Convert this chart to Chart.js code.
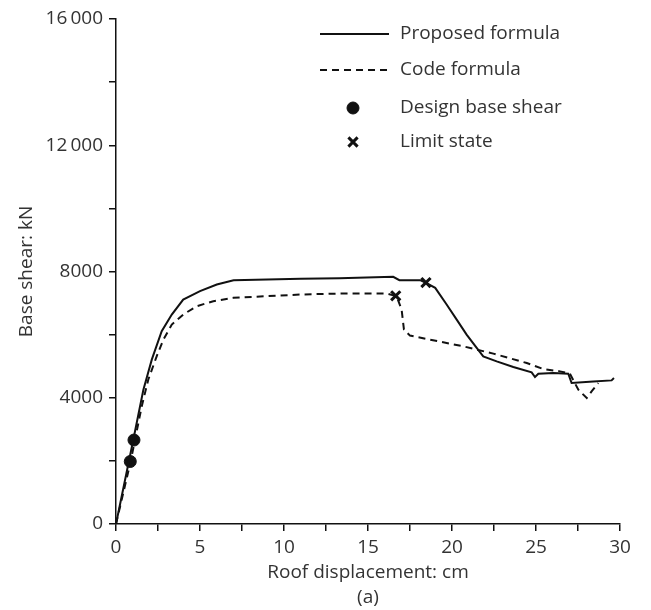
<!DOCTYPE html>
<html>
<head>
<meta charset="utf-8">
<script src="https://cdn.jsdelivr.net/npm/chart.js@4.4.0/dist/chart.umd.min.js"></script>
<style>
    html, body { margin: 0; padding: 0; background: #fff; }
    #wrap { width: 651px; height: 610px; }
</style>
</head>
<body>
<div id="wrap"><canvas id="pushoverChart" width="651" height="610"></canvas></div>
<script>
    // Proposed formula curve (roof displacement cm, base shear kN)
    const propX = [0, 1.03, 1.63, 2.13, 2.72, 3.32, 4.0, 5.0, 6.0, 7.0, 11.0, 13.3, 16.5, 16.87, 18.1, 18.45,
        19.0, 19.68, 20.28, 20.87, 21.47, 21.86, 22.66, 23.65, 24.74, 24.94, 25.14, 26.03, 26.92, 27.12, 28.41, 29.5, 29.64];
    const propY = [0, 2667, 4255, 5207, 6106, 6636, 7112, 7376, 7588, 7725, 7769, 7790, 7832, 7725, 7725, 7642,
        7483, 6953, 6477, 6000, 5578, 5312, 5153, 4975, 4804, 4657, 4762, 4784, 4762, 4466, 4518, 4550, 4625];

    // Code formula curve
    const codeX = [0, 0.87, 1.53, 1.92, 2.42, 2.82, 3.32, 4.0, 4.8, 5.79, 6.98, 8.97, 10.95, 13.33, 16.11, 16.7,
        17.0, 17.14, 17.5, 18.49, 20.67, 21.47, 22.46, 24.45, 25.44, 26.43, 27.02, 27.52, 28.02, 28.31, 28.71];
    const codeY = [0, 1978, 3725, 4572, 5312, 5842, 6318, 6636, 6900, 7058, 7166, 7217, 7271, 7302, 7302, 7217,
        6795, 6159, 5969, 5863, 5630, 5525, 5398, 5100, 4911, 4836, 4762, 4255, 3990, 4201, 4467];

    // Marker points
    const designX = [0.85, 1.07];
    const designY = [1980, 2660];
    const limitX = [16.65, 18.45];
    const limitY = [7230, 7650];

    const xTickLabels = ['0', '5', '10', '15', '20', '25', '30'];
    const yTickLabels = ['0', '4000', '8000', '12\u2009000', '16\u2009000'];

    const toPoints = (xs, ys) => xs.map((x, i) => ({ x: x, y: ys[i] }));

    const FONT = '"Open Sans", "Noto Sans", sans-serif';
    const FONT_SIZE = 19;
    const INK = '#111';
    const TEXT = '#333';

    // Legend drawn inside the plot, top right
    const insideLegend = {
        id: 'insideLegend',
        afterDraw(chart) {
            const ctx = chart.ctx;
            const sets = chart.data.datasets;
            const rows = [34, 70, 108, 142];
            ctx.save();
            ctx.font = FONT_SIZE + 'px ' + FONT;
            ctx.textBaseline = 'middle';
            sets.forEach((ds, i) => {
                const y = rows[i];
                ctx.strokeStyle = INK;
                if (ds.showLine !== false) {
                    ctx.lineWidth = ds.borderWidth;
                    ctx.setLineDash(ds.borderDash || []);
                    ctx.beginPath();
                    ctx.moveTo(320, y);
                    ctx.lineTo(389, y);
                    ctx.stroke();
                    ctx.setLineDash([]);
                } else {
                    ctx.lineWidth = ds.borderWidth;
                    ctx.fillStyle = INK;
                    Chart.helpers.drawPoint(ctx, {
                        pointStyle: ds.pointStyle,
                        radius: ds.pointRadius,
                        borderWidth: ds.borderWidth,
                        rotation: 0
                    }, 353, y);
                }
                ctx.fillStyle = TEXT;
                ctx.fillText(ds.label, 400, y);
            });
            ctx.restore();
        }
    };

    new Chart(document.getElementById('pushoverChart'), {
        type: 'line',
        data: {
            datasets: [
                {
                    label: 'Proposed formula',
                    data: toPoints(propX, propY),
                    borderColor: INK,
                    borderWidth: 2,
                    pointRadius: 0,
                    tension: 0,
                    fill: false
                },
                {
                    label: 'Code formula',
                    data: toPoints(codeX, codeY),
                    borderColor: INK,
                    borderWidth: 2,
                    borderDash: [7, 5],
                    pointRadius: 0,
                    tension: 0,
                    fill: false
                },
                {
                    label: 'Design base shear',
                    data: toPoints(designX, designY),
                    showLine: false,
                    pointStyle: 'circle',
                    pointRadius: 6,
                    borderWidth: 1,
                    borderColor: INK,
                    backgroundColor: INK
                },
                {
                    label: 'Limit state',
                    data: toPoints(limitX, limitY),
                    showLine: false,
                    pointStyle: 'crossRot',
                    pointRadius: 6.5,
                    borderWidth: 3,
                    borderColor: INK,
                    backgroundColor: INK
                }
            ]
        },
        options: {
            responsive: false,
            animation: false,
            layout: { padding: { left: 0, right: 31, top: 19, bottom: 0 } },
            plugins: {
                legend: { display: false },
                tooltip: { enabled: false }
            },
            scales: {
                x: {
                    type: 'linear',
                    min: 0,
                    max: 30,
                    afterFit: (scale) => { scale.height = 86; },
                    border: { display: true, color: INK, width: 1.5 },
                    grid: { drawOnChartArea: false, drawTicks: true, tickLength: 7, color: INK, lineWidth: 1.5 },
                    ticks: {
                        stepSize: 2.5,
                        padding: 5,
                        maxRotation: 0,
                        autoSkip: false,
                        color: TEXT,
                        font: { family: FONT, size: FONT_SIZE },
                        callback: (v) => (v % 5 === 0 ? xTickLabels[v / 5] : '')
                    },
                    title: {
                        display: true,
                        text: ['Roof displacement: cm', '(a)'],
                        color: TEXT,
                        font: { family: FONT, size: FONT_SIZE, lineHeight: 1.3 },
                        padding: { top: 0, bottom: 0 }
                    }
                },
                y: {
                    type: 'linear',
                    min: 0,
                    max: 16000,
                    afterFit: (scale) => { scale.width = 116; },
                    border: { display: true, color: INK, width: 1.5 },
                    grid: { drawOnChartArea: false, drawTicks: true, tickLength: 7, color: INK, lineWidth: 1.5 },
                    ticks: {
                        stepSize: 2000,
                        padding: 6,
                        autoSkip: false,
                        color: TEXT,
                        font: { family: FONT, size: FONT_SIZE },
                        callback: (v) => (v % 4000 === 0 ? yTickLabels[v / 4000] : '')
                    },
                    title: {
                        display: true,
                        text: 'Base shear: kN',
                        color: TEXT,
                        font: { family: FONT, size: FONT_SIZE },
                        padding: { top: 15, bottom: 0 }
                    }
                }
            }
        },
        plugins: [insideLegend]
    });
</script>
</body>
</html>
